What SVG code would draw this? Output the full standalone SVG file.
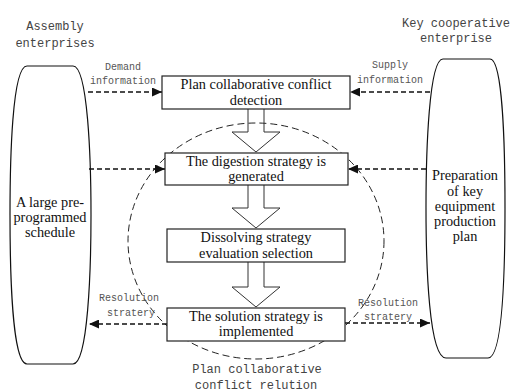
<svg xmlns="http://www.w3.org/2000/svg" width="513" height="392" viewBox="0 0 513 392">
<defs>
<marker id="ah" markerUnits="userSpaceOnUse" markerWidth="11" markerHeight="9" refX="10" refY="4.5" orient="auto">
<path d="M0,0 L10,4.5 L0,9 Z" fill="#111"/>
</marker>
<style>
.box{fill:#fff;stroke:#222;stroke-width:1.2}
.pill{fill:none;stroke:#111;stroke-width:1.2}
.blk{fill:none;stroke:#333;stroke-width:1}
.da{fill:none;stroke:#111;stroke-width:1.5;stroke-dasharray:5,3;marker-end:url(#ah)}
.ell{fill:none;stroke:#222;stroke-width:1;stroke-dasharray:7,4}
.t{font-family:"Liberation Serif","Times New Roman",serif;font-size:14.3px;fill:#111;text-anchor:middle}
.m{font-family:"Liberation Mono","Courier New",monospace;font-size:12px;fill:#444;text-anchor:middle}
.s{font-family:"Liberation Mono","Courier New",monospace;font-size:10px;fill:#555;text-anchor:middle}
</style>
</defs>
<rect width="513" height="392" fill="#fff"/>
<ellipse class="ell" cx="256" cy="241" rx="128" ry="118"/>
<g id="connectors">
<path class="blk" d="M248,109 V132 H232 L256,152 L280,132 H264 V109"/>
<path class="blk" d="M248,185 V208 H232 L256,228 L280,208 H264 V185"/>
<path class="blk" d="M248,262 V287 H232 L256,307 L280,287 H264 V262"/>
<line class="da" x1="88" y1="92" x2="162" y2="92"/>
<line class="da" x1="430" y1="92" x2="350" y2="92"/>
<line class="da" x1="89" y1="169" x2="165" y2="169"/>
<line class="da" x1="426" y1="169" x2="348" y2="169"/>
<line class="da" x1="167" y1="324" x2="89" y2="324"/>
<line class="da" x1="345" y1="323" x2="430" y2="323"/>
<text class="s" x="123" y="70">Demand</text>
<text class="s" x="123" y="84">information</text>
<text class="s" x="390" y="68">Supply</text>
<text class="s" x="390" y="83">information</text>
<text class="s" x="129" y="301">Resolution</text>
<text class="s" x="131" y="316">stratery</text>
<text class="s" x="388" y="306">Resolution</text>
<text class="s" x="388" y="320">stratery</text>
</g>
<g id="assembly">
<path class="pill" d="M27,66 H73 C88,66 91,160 91,215 C91,270 88,364 73,364 H27 C12,364 10,270 10,215 C10,160 12,66 27,66 Z"/>
<text class="m" x="55" y="30">Assembly</text>
<text class="m" x="55" y="47">enterprises</text>
<text class="t" x="50" y="207">A large pre-</text>
<text class="t" x="50" y="222">programmed</text>
<text class="t" x="50" y="237">schedule</text>
</g>
<g id="key">
<path class="pill" d="M443,59 H490 C503,59 505,150 505,208 C505,266 503,358 488,358 H446 C429,358 426,266 426,208 C426,150 429,59 443,59 Z"/>
<text class="m" x="456" y="27">Key cooperative</text>
<text class="m" x="456" y="42">enterprise</text>
<text class="t" x="465" y="180">Preparation</text>
<text class="t" x="465" y="195.5">of key</text>
<text class="t" x="465" y="211">equipment</text>
<text class="t" x="465" y="226">production</text>
<text class="t" x="465" y="241">plan</text>
</g>
<g id="detect">
<rect class="box" x="162" y="76" width="188" height="33"/>
<text class="t" x="256" y="89">Plan collaborative conflict</text>
<text class="t" x="256" y="105">detection</text>
</g>
<g id="digest">
<rect class="box" x="165" y="153" width="183" height="32"/>
<text class="t" x="256" y="166">The digestion strategy is</text>
<text class="t" x="256" y="181">generated</text>
</g>
<g id="dissolve">
<rect class="box" x="167" y="229" width="178" height="33"/>
<text class="t" x="256" y="242">Dissolving strategy</text>
<text class="t" x="256" y="257.5">evaluation selection</text>
</g>
<g id="solution">
<rect class="box" x="167" y="308" width="178" height="33"/>
<text class="t" x="256" y="320.5">The solution strategy is</text>
<text class="t" x="256" y="336">implemented</text>
</g>
<g id="relution">
<text class="m" x="257" y="373">Plan collaborative</text>
<text class="m" x="256" y="389">conflict relution</text>
</g>
</svg>
